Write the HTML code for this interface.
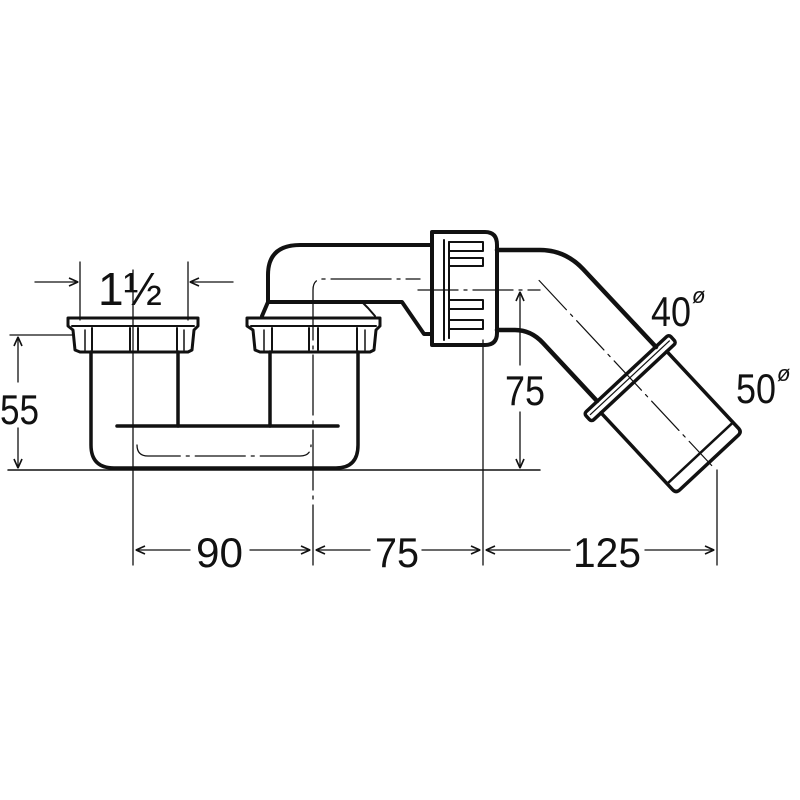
<!DOCTYPE html>
<html><head><style>
html,body{margin:0;padding:0;background:#fff;}
svg{display:block;}
text{font-family:"Liberation Sans",sans-serif;fill:#111;}
</style></head><body>
<svg width="800" height="800" viewBox="0 0 800 800" xmlns="http://www.w3.org/2000/svg">
<rect width="800" height="800" fill="#fff"/>
<defs>
<marker id="ar" viewBox="0 0 10 10" refX="10" refY="5" markerWidth="10" markerHeight="10" orient="auto-start-reverse" markerUnits="userSpaceOnUse">
<path d="M1,1 L10,5 L1,9" fill="none" stroke="#111" stroke-width="1.6"/>
</marker>
</defs>
<g fill="none" stroke="#111" stroke-linejoin="round" stroke-linecap="round">
<path d="M91,352 L91,445 Q91,468 114,468 L336,468 Q358,468 358,445 L358,352" stroke-width="3.5"/>
<line x1="178" y1="352" x2="178" y2="426" stroke-width="3.5"/>
<line x1="270" y1="352" x2="270" y2="426" stroke-width="3.5"/>
<line x1="117" y1="426" x2="338" y2="426" stroke-width="3.5"/>
<path d="M68,318 L198,318 L198,326 L194,330 L192,350 L188,352 L80,352 L75,350 L73,330 L68,326 Z" stroke-width="3"/>
<line x1="72" y1="326" x2="194" y2="326" stroke-width="2"/>
<line x1="85" y1="330" x2="85" y2="350" stroke-width="1.5"/>
<line x1="92" y1="328" x2="92" y2="350" stroke-width="2"/>
<line x1="130" y1="328" x2="130" y2="350" stroke-width="2"/>
<line x1="138" y1="328" x2="138" y2="350" stroke-width="2"/>
<line x1="177" y1="328" x2="177" y2="350" stroke-width="2"/>
<line x1="184" y1="330" x2="184" y2="350" stroke-width="1.5"/>
<path d="M247,318 L380,318 L380,326 L376,330 L374,350 L370,352 L260,352 L255,350 L253,330 L247,326 Z" stroke-width="3"/>
<line x1="251" y1="326" x2="376" y2="326" stroke-width="2"/>
<line x1="264" y1="330" x2="264" y2="350" stroke-width="1.5"/>
<line x1="272" y1="328" x2="272" y2="350" stroke-width="2"/>
<line x1="309" y1="328" x2="309" y2="350" stroke-width="2"/>
<line x1="318" y1="328" x2="318" y2="350" stroke-width="2"/>
<line x1="357" y1="328" x2="357" y2="350" stroke-width="2"/>
<line x1="365" y1="330" x2="365" y2="350" stroke-width="1.5"/>
<path d="M262,316 L268,302 L268,275 Q268,245 300,245 L432,245" stroke-width="4"/>
<path d="M268,302 L402,302 L424,334 L432,334" stroke-width="4"/>
<path d="M362,302 L368,308 L375,316" stroke-width="2"/>
<path d="M432,232 L485,232 Q497,232 497,245 L497,333 Q497,345 485,345 L432,345 Z" stroke-width="4"/>
<path d="M444,240 L444,340" stroke-width="2"/>
<path d="M449,242 L483,242 L483,251 L449,251 L449,265 M449,258 L483,258 L483,266 L449,266" stroke-width="2"/>
<path d="M449,275 L449,283 M449,300 L483,300 L483,309 L449,309 L449,325 M449,320 L483,320 L483,329 L449,329 L449,338" stroke-width="2"/>
<line x1="449" y1="242" x2="449" y2="338" stroke-width="2"/>
<path d="M497,250 L540,250 Q565,250 583,269 L656,347" stroke-width="4.5"/>
<path d="M497,330 L515,330 Q531,330 543,343 L597,401" stroke-width="4.5"/>
<g transform="translate(548,290) rotate(47)">
<rect x="115" y="-58" width="11" height="116" rx="3" stroke-width="3.5"/>
<line x1="120" y1="-54" x2="120" y2="54" stroke-width="1.2"/>
<path d="M126,-45 L231,-45 Q236,-45 236,-40 L236,40 Q236,45 231,45 L126,45" stroke-width="3.5"/>
<line x1="223" y1="-45" x2="223" y2="45" stroke-width="2.5"/>
<line x1="-13" y1="0" x2="240" y2="0" stroke-width="1.2" stroke-dasharray="40,6,3,6"/>
</g>
<path d="M133,270 L133,565" stroke-width="1.3"/>
<path d="M313,565 L313,290 Q313,279 323,279 L420,279" stroke-width="1.3" stroke-dasharray="60,6,3,6"/>
<line x1="418" y1="290" x2="540" y2="290" stroke-width="1.3" stroke-dasharray="40,6,3,6"/>
<path d="M137,445 Q137,456 148,456 L300,456 Q311,456 311,445" stroke-width="1.3" stroke-dasharray="50,6,3,6"/>
<line x1="10" y1="335" x2="72" y2="335" stroke-width="1.3"/>
<line x1="8" y1="470" x2="540" y2="470" stroke-width="1.5"/>
<line x1="18" y1="337" x2="18" y2="382" stroke-width="1.3" marker-start="url(#ar)"/>
<line x1="18" y1="428" x2="18" y2="468" stroke-width="1.3" marker-end="url(#ar)"/>
<line x1="520" y1="292" x2="520" y2="365" stroke-width="1.3" marker-start="url(#ar)"/>
<line x1="520" y1="412" x2="520" y2="468" stroke-width="1.3" marker-end="url(#ar)"/>
<line x1="483" y1="340" x2="483" y2="565" stroke-width="1.3"/>
<line x1="717" y1="470" x2="717" y2="565" stroke-width="1.3"/>
<line x1="136" y1="550" x2="190" y2="550" stroke-width="1.3" marker-start="url(#ar)"/>
<line x1="250" y1="550" x2="310" y2="550" stroke-width="1.3" marker-end="url(#ar)"/>
<line x1="316" y1="550" x2="370" y2="550" stroke-width="1.3" marker-start="url(#ar)"/>
<line x1="422" y1="550" x2="480" y2="550" stroke-width="1.3" marker-end="url(#ar)"/>
<line x1="486" y1="550" x2="570" y2="550" stroke-width="1.3" marker-start="url(#ar)"/>
<line x1="645" y1="550" x2="714" y2="550" stroke-width="1.3" marker-end="url(#ar)"/>
<line x1="80" y1="262" x2="80" y2="320" stroke-width="1.3"/>
<line x1="188" y1="262" x2="188" y2="320" stroke-width="1.3"/>
<line x1="35" y1="282" x2="78" y2="282" stroke-width="1.3" marker-end="url(#ar)"/>
<line x1="233" y1="282" x2="190" y2="282" stroke-width="1.3" marker-end="url(#ar)"/>
</g>
<g font-size="42">
<text x="98" y="305" font-size="46" textLength="64" lengthAdjust="spacingAndGlyphs">1½</text>
<text x="0" y="424" textLength="39" lengthAdjust="spacingAndGlyphs">55</text>
<text x="505" y="405" textLength="40" lengthAdjust="spacingAndGlyphs">75</text>
<text x="196" y="567" textLength="47" lengthAdjust="spacingAndGlyphs">90</text>
<text x="375" y="567" textLength="44" lengthAdjust="spacingAndGlyphs">75</text>
<text x="573" y="567" textLength="68" lengthAdjust="spacingAndGlyphs">125</text>
<text x="651" y="326" textLength="40" lengthAdjust="spacingAndGlyphs">40</text>
<text x="736" y="403" textLength="40" lengthAdjust="spacingAndGlyphs">50</text>
</g>
<text x="692" y="303" font-size="22" font-style="italic">ø</text>
<text x="777" y="381" font-size="22" font-style="italic">ø</text>
</svg>
</body></html>
